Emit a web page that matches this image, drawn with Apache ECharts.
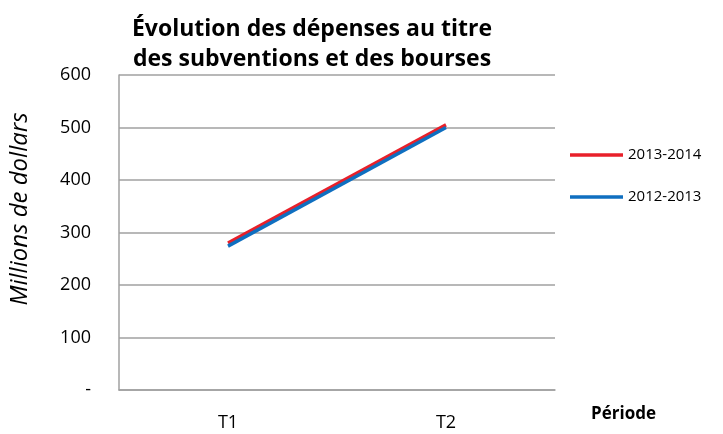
<!DOCTYPE html>
<html>
<head>
<meta charset="utf-8">
<script src="https://cdn.jsdelivr.net/npm/echarts@6/dist/echarts.min.js"></script>
<style>
  html, body { margin: 0; padding: 0; background: #fff; }
  #chart { width: 723px; height: 434px; }
</style>
</head>
<body>
<div id="chart"></div>
<script>
// données
const periodes = ['T1', 'T2']
const serie2013_2014 = [280, 505]
const serie2012_2013 = [274, 500]
const yTicks = [0, 100, 200, 300, 400, 500, 600]

const FONT = '"Open Sans", "Noto Sans", sans-serif'

const chart = echarts.init(document.getElementById('chart'))

const option = {
  animation: false,
  textStyle: { fontFamily: FONT, color: '#000' },
  title: {
    text: 'Évolution des dépenses au titre\ndes subventions et des bourses',
    left: 307,
    textAlign: 'center',
    top: 9,
    textStyle: { fontFamily: FONT, fontSize: 23, fontWeight: 'bold', lineHeight: 30, color: '#000' }
  },
  legend: {
    orient: 'vertical',
    left: 570,
    top: 147,
    padding: 0,
    icon: 'rect',
    itemWidth: 53,
    itemHeight: 3.5,
    itemGap: 26,
    data: ['2013-2014', '2012-2013'],
    textStyle: { fontFamily: FONT, fontSize: 15, lineHeight: 16, color: '#000' }
  },
  grid: { left: 119, right: 168, top: 75, bottom: 44 },
  xAxis: {
    type: 'category',
    data: periodes,
    boundaryGap: true,
    axisLine: { lineStyle: { color: '#a0a0a0', width: 1.5 } },
    axisTick: { show: false },
    axisLabel: { fontFamily: FONT, fontSize: 18, color: '#000', margin: 24 },
    name: 'Période',
    nameLocation: 'end',
    nameGap: 36,
    nameTextStyle: { fontFamily: FONT, fontSize: 17, fontWeight: 'bold', color: '#000', align: 'left', verticalAlign: 'top', padding: [16, 0, 0, 0] }
  },
  yAxis: {
    type: 'value',
    min: yTicks[0],
    max: yTicks[yTicks.length - 1],
    interval: 100,
    axisLine: { show: true, lineStyle: { color: '#a0a0a0', width: 1.5 } },
    axisTick: { show: false },
    axisLabel: {
      fontFamily: FONT,
      fontSize: 18,
      color: '#000',
      margin: 28,
      formatter: v => (v === 0 ? '-' : String(v))
    },
    splitLine: { lineStyle: { color: '#a0a0a0', width: 1.5 } }
  },
  graphic: [{
    type: 'text',
    x: 20,
    y: 209,
    rotation: Math.PI / 2,
    style: {
      text: 'Millions de dollars',
      font: 'italic 24px "Open Sans", "Noto Sans", sans-serif',
      fill: '#000',
      align: 'center',
      verticalAlign: 'middle'
    }
  }],
  series: [
    {
      name: '2013-2014',
      type: 'line',
      data: serie2013_2014,
      symbol: 'none',
      lineStyle: { color: '#e8202a', width: 3.5 },
      itemStyle: { color: '#e8202a' }
    },
    {
      name: '2012-2013',
      type: 'line',
      data: serie2012_2013,
      symbol: 'none',
      lineStyle: { color: '#0f6fc0', width: 3.5 },
      itemStyle: { color: '#0f6fc0' }
    }
  ]
}

chart.setOption(option)
</script>
</body>
</html>
